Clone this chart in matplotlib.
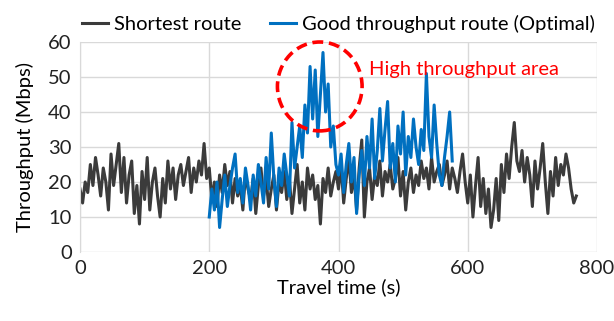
import matplotlib.pyplot as plt
import numpy as np
from matplotlib.patches import Ellipse

STEP = 4  # seconds between samples

# shortest route throughput (Mbps), t = 0, 4, 8, ...
shortest = [
    18, 14, 20, 17, 25, 19, 27, 22, 16, 24,
    20, 12, 28, 19, 25, 31, 17, 27, 14, 22,
    26, 11, 19, 8, 23, 15, 27, 12, 20, 24,
    16, 10, 21, 14, 26, 18, 24, 15, 22, 25,
    19, 23, 27, 17, 24, 20, 26, 22, 31, 21,
    24, 15, 20, 13, 22, 17, 25, 19, 23, 14,
    21, 16, 19, 12, 22, 18, 15, 21, 11, 19,
    24, 16, 21, 13, 18, 22, 12, 20, 17, 23,
    15, 21, 11, 18, 25, 14, 20, 12, 24, 18,
    22, 15, 19, 8, 21, 17, 24, 16, 20, 23,
    18, 25, 14, 21, 27, 17, 22, 12, 24, 32,
    10, 20, 24, 15, 22, 19, 26, 16, 23, 20,
    25, 18, 21, 27, 16, 23, 12, 20, 24, 17,
    22, 19, 26, 21, 24, 18, 27, 20, 23, 25,
    19, 22, 26, 18, 24, 21, 17, 23, 28, 20,
    14, 22, 10, 19, 27, 13, 21, 11, 18, 7,
    12, 21, 9, 25, 17, 28, 21, 30, 37, 26,
    23, 29, 20, 27, 22, 13, 26, 18, 24, 31,
    20, 11, 23, 16, 27, 19, 25, 22, 28, 24,
    18, 14, 16,
]

# good throughput route (Mbps), t = 200, 204, ...
optimal_start = 200
optimal = [
    10, 18, 12, 20, 7, 15, 22, 13, 19, 24,
    28, 17, 21, 14, 24, 19, 12, 22, 16, 25,
    20, 14, 27, 18, 34, 21, 13, 24, 19, 28,
    22, 16, 37, 24, 30, 36, 27, 42, 34, 53,
    38, 52, 33, 45, 57, 40, 48, 30, 36, 25,
    22, 28, 17, 25, 31, 20, 27, 11, 22, 29,
    19, 33, 24, 38, 21, 29, 41, 26, 35, 43,
    24, 31, 20, 36, 28, 40, 22, 33, 27, 38,
    30, 25, 35, 29, 51, 33, 27, 42, 31, 22,
    19, 27, 33, 40, 26,
]

t_short = np.arange(len(shortest)) * STEP
t_opt = optimal_start + np.arange(len(optimal)) * STEP

plt.rcParams['font.family'] = ['Lato', 'DejaVu Sans']
FS = 14.5

fig = plt.figure(figsize=(6.14, 3.21), dpi=100)
ax = fig.add_axes([80 / 614, 69 / 321, 517 / 614, 210 / 321])

ax.plot(t_short, shortest, color='#3b3b3b', lw=2.2, label='Shortest route')
ax.plot(t_opt, optimal, color='#0070c0', lw=2.2, label='Good throughput route (Optimal)')

ax.set_xlim(0, 800)
ax.set_ylim(0, 60)
ax.set_xticks(range(0, 801, 200))
ax.set_yticks(range(0, 61, 10))
ax.grid(True, color='#d9d9d9', lw=1)
ax.set_axisbelow(True)
for s in ['top', 'right', 'bottom']:
    ax.spines[s].set_visible(False)
ax.spines['left'].set_color('#d9d9d9')
ax.tick_params(length=0, labelsize=FS, colors='#222222', pad=6)

ax.set_xlabel('Travel time (s)', fontsize=FS, labelpad=1)
ax.set_ylabel('Throughput (Mbps)', fontsize=FS, labelpad=10)

circle = Ellipse((371, 47.3), 131, 25.4, fill=False, edgecolor='#ff0000',
                 lw=2.6, ls=(0, (3, 1.6)), clip_on=False, zorder=5)
ax.add_patch(circle)
ax.text(447, 52, 'High throughput area', color='#ff0000', fontsize=FS,
        va='center', ha='left')

ax.legend(loc='lower center', bbox_to_anchor=(0.5, 0.985), ncol=2, frameon=False,
          fontsize=FS, handlelength=1.3, handletextpad=0.3, columnspacing=1.4,
          borderpad=0.1)

fig.savefig('out.png', dpi=100)
